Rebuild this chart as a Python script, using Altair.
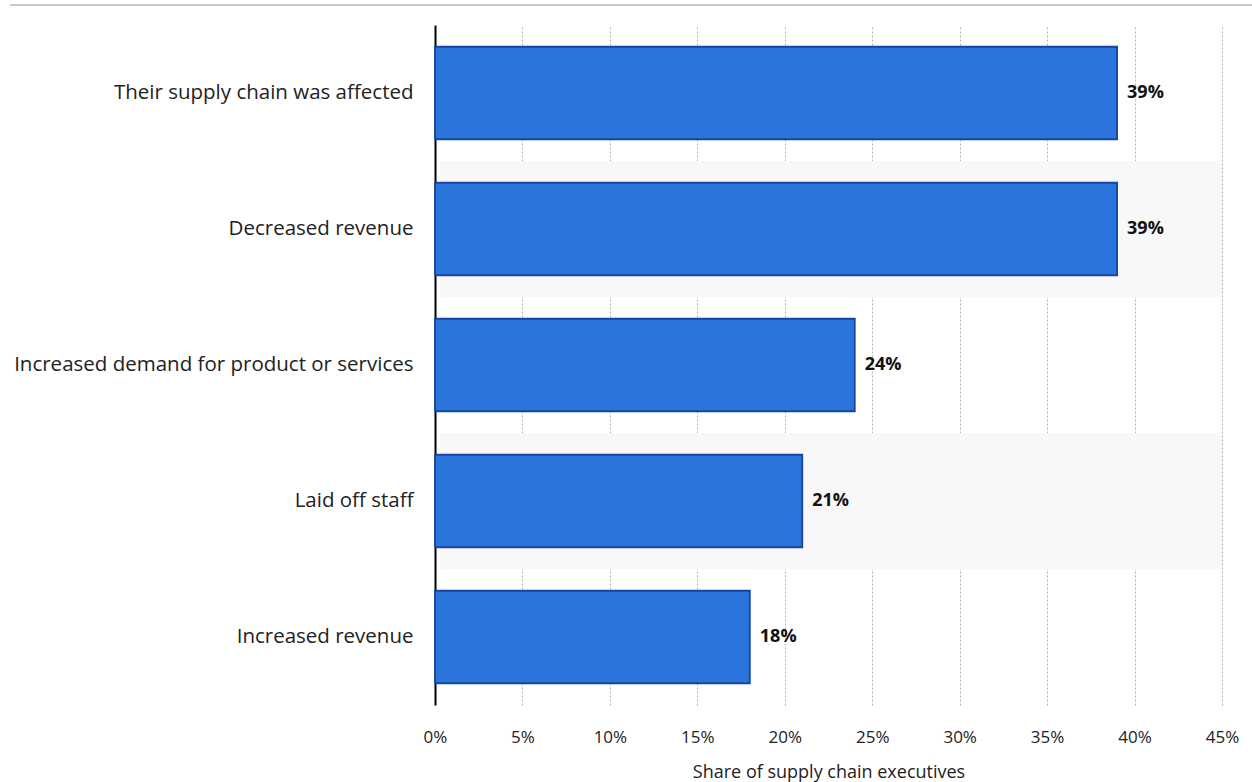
import altair as alt
import pandas as pd

categories = [
    "Their supply chain was affected",
    "Decreased revenue",
    "Increased demand for product or services",
    "Laid off staff",
    "Increased revenue",
]
values = [39, 39, 24, 21, 18]
labels = ["39%", "39%", "24%", "21%", "18%"]
shaded = [False, True, False, True, False]

df = pd.DataFrame({"cat": categories, "val": values, "lab": labels, "shade": shaded})

font = "Open Sans"
yenc = alt.Y("cat:N", sort=categories,
             scale=alt.Scale(paddingInner=0.32, paddingOuter=0.16),
             axis=alt.Axis(title=None, labelFontSize=20.5, labelColor="#222", labelFont=font,
                           labelPadding=22, ticks=False, domain=True, domainColor="#000",
                           domainWidth=2, labelLimit=440, grid=False))
xscale = alt.Scale(domain=[0, 45], nice=False)

bg = alt.Chart(df).transform_filter("datum.shade").mark_rect(
    fill="#f8f8f8", xOffset=5
).encode(
    y=alt.Y("cat:N", sort=categories,
            scale=alt.Scale(domain=categories, paddingInner=0, paddingOuter=0), axis=None),
    x=alt.value(0), x2=alt.value(787),
)

bars = alt.Chart(df).mark_bar(
    color="#2a74db", stroke="#1545a0", strokeWidth=1.8
).encode(
    y=yenc,
    x=alt.X("val:Q", scale=xscale,
            axis=alt.Axis(values=[0, 5, 10, 15, 20, 25, 30, 35, 40, 45],
                          labelExpr="datum.value + '%'",
                          title="Share of supply chain executives",
                          titleFontSize=18, titleFont=font, titleFontWeight="normal",
                          titleColor="#222", titlePadding=18,
                          labelFontSize=17, labelFont=font, labelColor="#222",
                          labelFlush=False, labelPadding=24, ticks=False, domain=False,
                          grid=True, gridDash=[2, 2], gridColor="#b0b0b0", gridWidth=1)),
)

text = alt.Chart(df).mark_text(
    align="left", dx=10, fontSize=18, fontWeight="bold", font=font, color="#111"
).encode(y=alt.Y("cat:N", sort=categories), x="val:Q", text="lab:N")

topline = alt.Chart(df).mark_rule(color="#c8c8c8", strokeWidth=2).encode(
    x=alt.value(-425), x2=alt.value(817), y=alt.value(-20)
)

chart = alt.layer(bg, alt.layer(bars, text), topline).resolve_scale(y="independent").properties(
    width=787, height=680,
    autosize=alt.AutoSizeParams(type="none"),
    padding={"left": 435, "top": 25, "right": 30, "bottom": 77},
).configure_view(stroke=None)

chart.save("out.html", embed_options={"renderer": "svg", "actions": False})
